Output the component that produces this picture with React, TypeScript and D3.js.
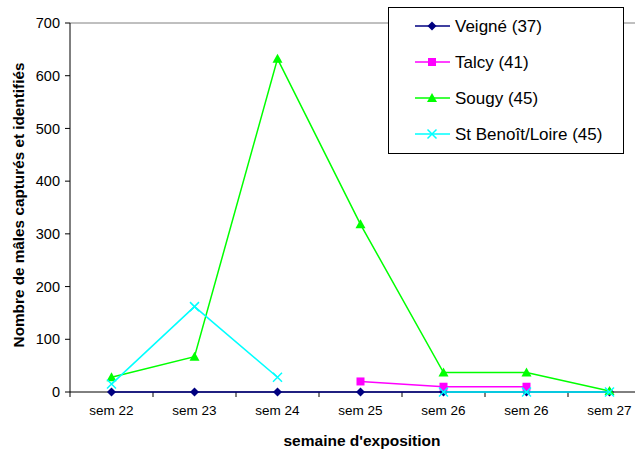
import React from "react";
import * as d3 from "d3";

const categories = ["sem 22", "sem 23", "sem 24", "sem 25", "sem 26", "sem 26", "sem 27"];
const veigne: (number | null)[] = [0, 0, 0, 0, 0, 0, 0];
const talcy: (number | null)[] = [null, null, null, 20, 10, 10, null];
const sougy: (number | null)[] = [28, 67, 632, 318, 37, 37, 2];
const stBenoit: (number | null)[] = [15, 162, 28, null, 0, 0, 0];
const yTicks = [0, 100, 200, 300, 400, 500, 600, 700];

const series = [
  { name: "Veigné (37)", values: veigne, color: "#000080", marker: "diamond" },
  { name: "Talcy (41)", values: talcy, color: "#FF00FF", marker: "square" },
  { name: "Sougy (45)", values: sougy, color: "#00FF00", marker: "triangle" },
  { name: "St Benoît/Loire (45)", values: stBenoit, color: "#00FFFF", marker: "x" },
];

const W = 635, H = 450;
const left = 70, right = 651, top = 23, bottom = 392;

function Marker({ type, x, y, color }: { type: string; x: number; y: number; color: string }) {
  if (type === "diamond") {
    const s = 4.5;
    return <path d={`M${x},${y - s}L${x + s},${y}L${x},${y + s}L${x - s},${y}Z`} fill={color} />;
  }
  if (type === "square") {
    return <rect x={x - 4} y={y - 4} width={8} height={8} fill={color} />;
  }
  if (type === "triangle") {
    return <path d={`M${x},${y - 5}L${x + 5},${y + 4}L${x - 5},${y + 4}Z`} fill={color} />;
  }
  const s = 4.5;
  return (
    <path d={`M${x - s},${y - s}L${x + s},${y + s}M${x - s},${y + s}L${x + s},${y - s}`} stroke={color} strokeWidth={1.5} fill="none" />
  );
}

export default function App() {
  const idx = categories.map((_, i) => String(i));
  const x = d3.scaleBand<string>().domain(idx).range([left, right]);
  const y = d3.scaleLinear().domain([0, 700]).range([bottom, top]);
  const cx = (i: number) => (x(String(i)) as number) + x.bandwidth() / 2;
  const line = d3
    .line<number | null>()
    .defined((d) => d !== null)
    .x((_, i) => cx(i))
    .y((d) => y(d as number));

  const font = "Arial, 'Liberation Sans', sans-serif";
  const tickBoundaries = d3.range(categories.length + 1).map((i) => left + i * x.bandwidth());

  return (
    <svg width={W} height={H} style={{ position: "absolute", left: 0, top: 0, background: "#fff" }} fontFamily={font}>
      <rect x={0} y={0} width={W} height={H} fill="#fff" />
      {/* top border */}
      <line x1={left} x2={right} y1={top} y2={top} stroke="#808080" strokeWidth={1} />
      {/* y axis */}
      <line x1={left} x2={left} y1={top} y2={bottom} stroke="#000" strokeWidth={1} />
      {yTicks.map((t) => (
        <g key={t}>
          <line x1={left - 5} x2={left} y1={y(t)} y2={y(t)} stroke="#000" />
          <text x={60} y={y(t)} dy="0.35em" textAnchor="end" fontSize={14.5}>
            {t}
          </text>
        </g>
      ))}
      {/* x axis */}
      <line x1={left} x2={right} y1={bottom} y2={bottom} stroke="#000" strokeWidth={1} />
      {tickBoundaries.map((b, i) => (
        <line key={i} x1={b} x2={b} y1={bottom} y2={bottom + 5} stroke="#000" />
      ))}
      {categories.map((c, i) => (
        <text key={i} x={cx(i)} y={415} textAnchor="middle" fontSize={13.5}>
          {c}
        </text>
      ))}
      {/* series */}
      {series.map((s) => (
        <g key={s.name}>
          <path d={line(s.values) || ""} fill="none" stroke={s.color} strokeWidth={1.5} />
          {s.values.map((v, i) =>
            v === null ? null : <Marker key={i} type={s.marker} x={cx(i)} y={y(v)} color={s.color} />
          )}
        </g>
      ))}
      {/* titles */}
      <text x={362} y={446} textAnchor="middle" fontSize={15.5} fontWeight="bold">
        semaine d'exposition
      </text>
      <text transform={`translate(24,205) rotate(-90)`} textAnchor="middle" fontSize={15.3} fontWeight="bold">
        Nombre de mâles capturés et identifiés
      </text>
      {/* legend */}
      <rect x={388.5} y={7.5} width={235} height={146} fill="#fff" stroke="#000" />
      {series.map((s, i) => {
        const ly = 26 + i * 36;
        return (
          <g key={s.name}>
            <line x1={415} x2={450} y1={ly} y2={ly} stroke={s.color} strokeWidth={1.5} />
            <Marker type={s.marker} x={432} y={ly} color={s.color} />
            <text x={455} y={ly} dy="0.35em" fontSize={17}>
              {s.name}
            </text>
          </g>
        );
      })}
    </svg>
  );
}
